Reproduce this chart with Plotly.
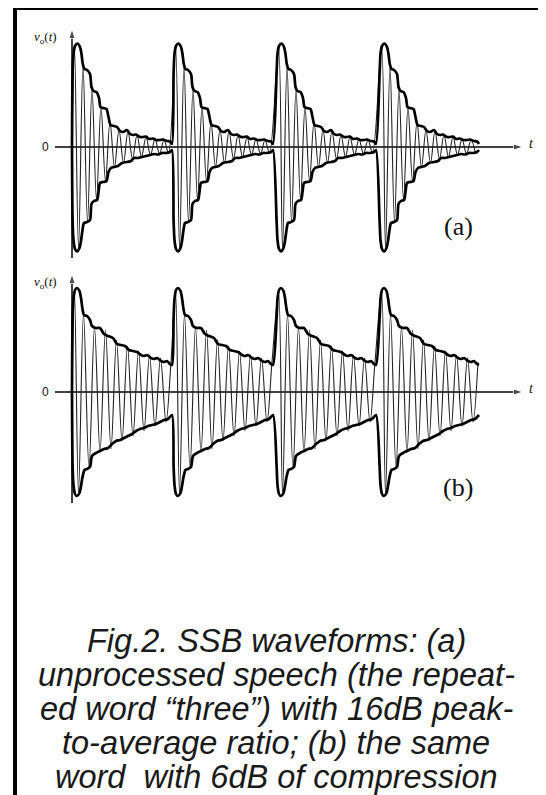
import plotly.graph_objects as go

# ---------------- data (arbitrary units) ----------------
# start time of each repetition of the word "three"
word_starts = [0, 101, 204, 307]

# (a) unprocessed speech: upper / lower envelope of one word
env_top_a_t = [0, 0.6, 1.5, 3, 5.5, 8, 9.5, 10.8, 12.5, 15, 18, 19.5, 21.5, 24.5, 27, 28.5, 31, 34.5,
               36.5, 38.5, 42, 45, 48, 51, 55, 58, 61, 64, 68, 71, 74, 77, 81, 84, 88, 91, 95, 98, 100]
env_top_a_v = [0, 74, 93, 101, 103.5, 100, 93, 83, 78, 77, 73, 60, 56, 55, 49, 40, 39, 38,
               30, 22, 21, 20, 16, 15, 17, 13, 12, 12.5, 10, 10, 10.5, 8, 8.5, 7, 7, 7.5, 6, 5.5, 3]
env_bot_a_t = [0, 0.6, 1.5, 3, 5, 7.5, 9, 10.5, 12, 15, 18, 19.5, 22, 25, 26.5, 28, 31, 34.5, 36.5, 39, 42,
               46, 50, 55, 59, 62, 66, 70, 74, 78, 82, 86, 90, 94, 98, 100]
env_bot_a_v = [0, 74, 93, 102, 104.5, 101, 94, 83, 76, 75, 73, 57, 54, 53, 45, 36, 35, 34, 25, 21, 20,
               19, 16, 15, 14, 11, 11, 10, 9, 8, 7, 7.5, 6, 6, 5, 3]
# carrier extremes of one word (alternating sign)
car_a_t = [2.5, 6.5, 11, 15.5, 20, 24.5, 29, 33.5, 38, 42.5, 47, 51.5, 56, 60.5, 65, 69.5,
           74, 78.5, 83, 87.5, 92, 96.5]
car_a_v = [100, -101, 82, -75, 58, -53, 40, -34, 25, -20, 17, -16, 16, -12, 12, -10,
           10, -8, 8, -7, 7, -6]

# (b) same word with 6 dB of compression
env_top_b_t = [0, 0.6, 1.5, 3, 5, 7.5, 9, 10.5, 12, 15, 18, 20, 24, 28, 32, 36, 41, 45, 49, 53, 57, 61,
               65, 69, 72, 75, 79, 82, 85, 89, 92, 95, 98, 100]
env_top_b_v = [0, 74, 93, 102, 104, 101, 94, 83, 77, 76, 72, 66, 64, 64, 58, 56, 54, 48, 47, 46, 42, 41,
               40, 37, 36, 37, 34, 33, 34, 31, 30, 31, 28, 27]
env_bot_b_t = [0, 0.6, 1.5, 3, 5, 7.5, 9, 10.5, 12.5, 15, 18, 20, 24, 28, 32, 36, 40, 44, 48, 52, 56,
               60, 64, 68, 72, 76, 80, 84, 88, 92, 96, 100]
env_bot_b_v = [0, 74, 93, 102, 104, 101, 94, 85, 78, 77, 75, 64, 61, 59, 57, 56, 52, 49, 48, 46, 44,
               42, 39, 37, 36, 34, 33, 32, 30, 28, 27, 23]
car_b_t = [2.5, 6.5, 11.5, 17, 22.5, 28, 33.5, 39, 44.5, 50, 55.5, 61, 66.5, 72, 77.5, 83,
           88.5, 94, 99]
car_b_v = [100, -101, 78, -76, 65, -60, 62, -57, 52, -49, 46, -44, 41, -39, 37, -34,
           34, -30, 30]

caption_lines = [
    "Fig.2. SSB waveforms: (a)",
    "unprocessed speech (the repeat-",
    "ed word \u201cthree\u201d) with 16dB peak-",
    "to-average ratio; (b) the same",
    "word\u00a0 with 6dB of compression",
]

# ---------------- helpers ----------------
def repeat(ts, vs, sign=1):
    X, Y = [], []
    for i, s in enumerate(word_starts):
        start = 1 if i > 0 else 0
        for t, v in list(zip(ts, vs))[start:]:
            X.append(s + t)
            Y.append(sign * v)
    return X, Y

def carrier(ts, vs):
    X, Y = [0], [0]
    for s in word_starts:
        for t, v in zip(ts, vs):
            X.append(s + t)
            Y.append(v)
    return X, Y

# page has an 8px body margin: draw in a 538x787 figure, offsets handled below
OFF = 8
W, H = 546 - OFF, 795 - OFF
def px(x):
    return (x - OFF) / W
def py(y):
    return 1 - (y - OFF) / H

fig = go.Figure()

panels = [
    ("x", "y", env_top_a_t, env_top_a_v, env_bot_a_t, env_bot_a_v, car_a_t, car_a_v, 118, -111),
    ("x2", "y2", env_top_b_t, env_top_b_v, env_bot_b_t, env_bot_b_v, car_b_t, car_b_v, 118, -111),
]
for xa, ya, tt, tv, bt, bv, ct, cv, ytop, ybot in panels:
    # axes with arrow heads
    fig.add_trace(go.Scatter(x=[0, 0], y=[ybot, ytop], mode="lines+markers", xaxis=xa, yaxis=ya,
                             line=dict(color="#000", width=1.5),
                             marker=dict(symbol="arrow", size=[0, 10], angleref="previous", color="#000"),
                             hoverinfo="skip", showlegend=False))
    fig.add_trace(go.Scatter(x=[-17, 451], y=[0, 0], mode="lines+markers", xaxis=xa, yaxis=ya,
                             line=dict(color="#000", width=1.6),
                             marker=dict(symbol="arrow", size=[0, 10], angleref="previous", color="#000"),
                             hoverinfo="skip", showlegend=False))
    cx, cy = carrier(ct, cv)
    fig.add_trace(go.Scatter(x=cx, y=cy, mode="lines", xaxis=xa, yaxis=ya,
                             line=dict(color="#222", width=1.1, shape="spline", smoothing=1.0),
                             hoverinfo="skip", showlegend=False))
    X, Y = repeat(tt, tv, 1)
    fig.add_trace(go.Scatter(x=X, y=Y, mode="lines", xaxis=xa, yaxis=ya,
                             line=dict(color="#000", width=2.7, shape="spline", smoothing=0.7),
                             hoverinfo="skip", showlegend=False))
    X, Y = repeat(bt, bv, -1)
    fig.add_trace(go.Scatter(x=X, y=Y, mode="lines", xaxis=xa, yaxis=ya,
                             line=dict(color="#000", width=2.7, shape="spline", smoothing=0.7),
                             hoverinfo="skip", showlegend=False))

ax_common = dict(visible=False, showgrid=False, zeroline=False, fixedrange=True)
fig.update_layout(
    width=W, height=H, margin=dict(l=0, r=0, t=0, b=0),
    paper_bgcolor="white", plot_bgcolor="rgba(0,0,0,0)",
    xaxis=dict(domain=[0, 1], range=[-64, 474], **ax_common),
    yaxis=dict(domain=[py(266), py(20)], range=[-119, 127], **ax_common),
    xaxis2=dict(domain=[0, 1], range=[-64, 474], anchor="y2", **ax_common),
    yaxis2=dict(domain=[py(514), py(266)], range=[-122, 126], anchor="x2", **ax_common),
)

ann = []
for xr, yr, ytop in [("x", "y", 118), ("x2", "y2", 118)]:
    ann.append(dict(x=-27, y=0, xref=xr, yref=yr, text="0", showarrow=False,
                    font=dict(family="Liberation Sans", size=12, color="#111")))
    ann.append(dict(x=459, y=4, xref=xr, yref=yr, text="<i>t</i>", showarrow=False,
                    font=dict(family="Liberation Serif", size=14, color="#111")))
    ann.append(dict(x=-27, y=ytop - 8, xref=xr, yref=yr,
                    text="<i>v</i><sub>o</sub>(<i>t</i>)", showarrow=False,
                    font=dict(family="Liberation Serif", size=13, color="#111")))

ann.append(dict(x=386, y=-79, xref="x", yref="y", text="(a)", showarrow=False,
                font=dict(family="Liberation Serif", size=26, color="#111")))
ann.append(dict(x=386, y=-95, xref="x2", yref="y2", text="(b)", showarrow=False,
                font=dict(family="Liberation Serif", size=26, color="#111")))

cap_y = [641, 675, 709, 743, 777]
for line, yy in zip(caption_lines, cap_y):
    ann.append(dict(x=px(276), y=py(yy), xref="paper", yref="paper", text="<i>" + line + "</i>",
                    showarrow=False, xanchor="center", yanchor="middle",
                    font=dict(family="Liberation Sans", size=32.5, color="#1a1a1a")))
fig.update_layout(annotations=ann)

# black frame (top and left edges)
fig.update_layout(shapes=[
    dict(type="line", xref="paper", yref="paper", x0=px(13), x1=1, y0=py(8), y1=py(8),
         line=dict(color="#000", width=4)),
    dict(type="line", xref="paper", yref="paper", x0=px(15), x1=px(15), y0=0, y1=py(6),
         line=dict(color="#000", width=4)),
])

fig.write_html("out.html")
